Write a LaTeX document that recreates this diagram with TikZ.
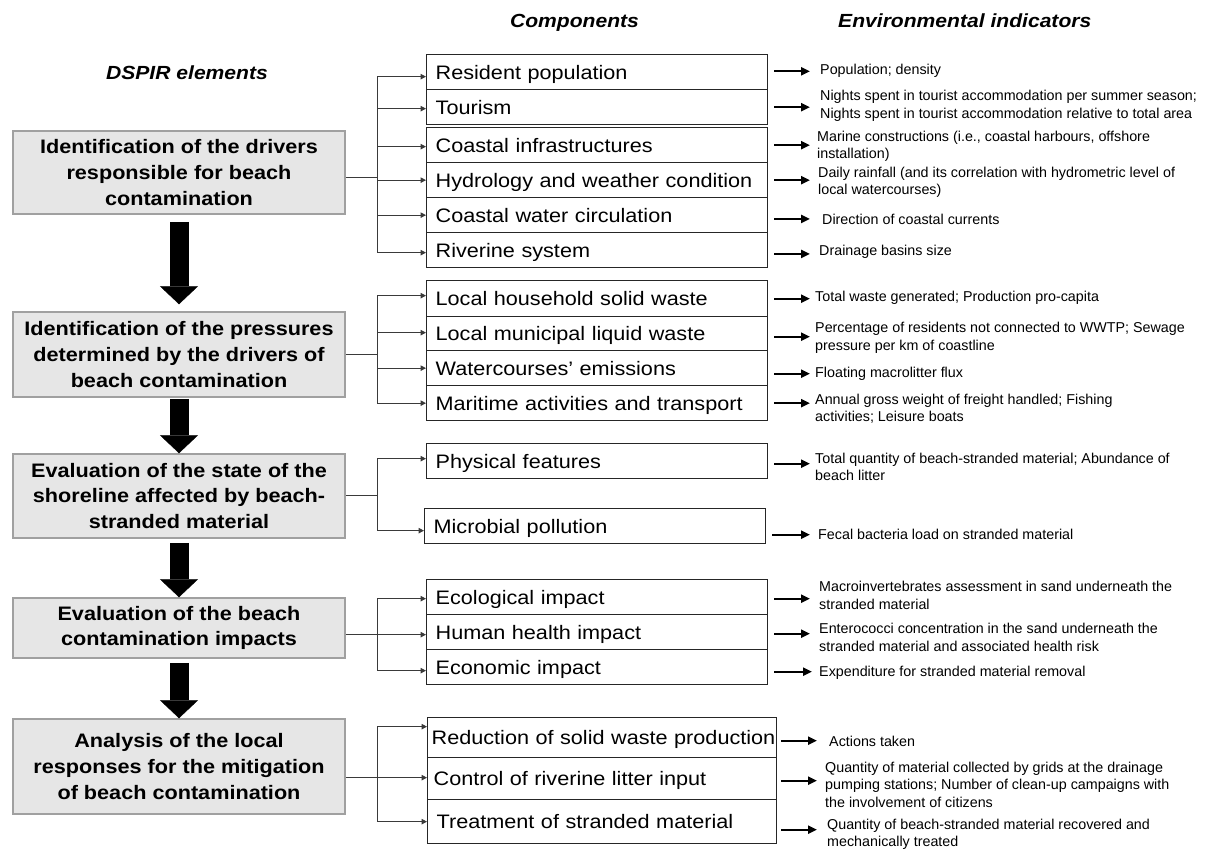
\documentclass[tikz,border=0pt]{standalone}
\usepackage{fontspec}
\setmainfont{Liberation Sans}[FakeStretch=1.11]
\newfontfamily\indfont{Liberation Sans}
\usetikzlibrary{arrows.meta}
\definecolor{boxfill}{HTML}{E6E6E6}
\definecolor{boxline}{HTML}{A0A0A0}
\definecolor{linkcol}{HTML}{3A3A3A}
\tikzset{
 head/.style={inner sep=0pt, font=\bfseries\itshape\fontsize{19}{23}\selectfont},
 dbox/.style={draw=boxline, line width=1.5pt, fill=boxfill, minimum width=332pt, inner sep=0pt, align=center, font=\bfseries\fontsize{19.5}{25.7}\selectfont},
 cbox/.style={draw=black!85, line width=1.3pt, fill=white, anchor=north west, inner sep=0pt, text width=341pt, align=left, text height=14pt, text depth=0pt, font=\fontsize{19.5}{23}\selectfont},
 cboxw/.style={cbox, text width=349pt},
 ind/.style={inner sep=0pt, anchor=west, align=left, font=\indfont\fontsize{14.3}{17.5}\selectfont},
 link/.style={draw=linkcol, line width=1pt},
 linkarrow/.style={link, -{Triangle[length=5.5pt,width=5.5pt]}},
 indarrow/.style={draw=black, line width=2.2pt, -{Triangle[length=9pt,width=8pt]}},
 bigarrow/.style={draw=black, line width=19pt, -{Triangle[length=18pt,width=38pt,line width'=0.4pt]}},
}
\begin{document}
\begin{tikzpicture}[x=1pt,y=-1pt]
\useasboundingbox (0,0) rectangle (1206,851);
% headers
\node[head, anchor=base] (hc) at (574.5,28) {Components};
\node[head, anchor=base west] (he) at (838,28) {Environmental indicators};
\node[head, anchor=base] (hd) at (187,79) {DSPIR elements};
% DSPIR elements
\node[dbox, minimum height=83pt] (d1) at (179,172.5) {Identification of the drivers\\responsible for beach\\contamination};
\node[dbox, minimum height=85pt] (d2) at (179,354.5) {Identification of the pressures\\determined by the drivers of\\beach contamination};
\node[dbox, minimum height=84pt] (d3) at (179,496) {Evaluation of the state of the\\shoreline affected by beach-\\stranded material};
\node[dbox, minimum height=60pt] (d4) at (179,628) {Evaluation of the beach\\contamination impacts};
\node[dbox, minimum height=95pt] (d5) at (179,766.5) {Analysis of the local\\responses for the mitigation\\of beach contamination};
% components
\node[cbox, minimum height=35pt] (c1) at (426,54) {\noindent\hspace*{9pt}Resident population};
\node[cbox, minimum height=35pt] (c2) at (426,89) {\noindent\hspace*{9pt}Tourism};
\node[cbox, minimum height=35pt] (c3) at (426,127) {\noindent\hspace*{9pt}Coastal infrastructures};
\node[cbox, minimum height=35pt] (c4) at (426,162) {\noindent\hspace*{9pt}Hydrology and weather condition};
\node[cbox, minimum height=35pt] (c5) at (426,197) {\noindent\hspace*{9pt}Coastal water circulation};
\node[cbox, minimum height=35pt] (c6) at (426,232) {\noindent\hspace*{9pt}Riverine system};
\node[cbox, minimum height=36pt] (c7) at (426,280) {\noindent\hspace*{9pt}Local household solid waste};
\node[cbox, minimum height=34pt] (c8) at (426,316) {\noindent\hspace*{9pt}Local municipal liquid waste};
\node[cbox, minimum height=35pt] (c9) at (426,350) {\noindent\hspace*{9pt}Watercourses’ emissions};
\node[cbox, minimum height=35pt] (c10) at (426,385) {\noindent\hspace*{9pt}Maritime activities and transport};
\node[cbox, minimum height=35pt] (c11) at (426,443) {\noindent\hspace*{9pt}Physical features};
\node[cbox, minimum height=35pt] (c12) at (424,508) {\noindent\hspace*{9pt}Microbial pollution};
\node[cbox, minimum height=35pt] (c13) at (426,579) {\noindent\hspace*{9pt}Ecological impact};
\node[cbox, minimum height=35pt] (c14) at (426,614) {\noindent\hspace*{9pt}Human health impact};
\node[cbox, minimum height=35pt] (c15) at (426,649) {\noindent\hspace*{9pt}Economic impact};
\node[cboxw, minimum height=40pt] (c16) at (427,717) {\noindent\hspace*{4pt}Reduction of solid waste production};
\node[cboxw, minimum height=42pt] (c17) at (427,757) {\noindent\hspace*{6pt}Control of riverine litter input};
\node[cboxw, minimum height=44pt] (c18) at (427,799) {\noindent\hspace*{9pt}Treatment of stranded material};
% indicators
\node[ind] (i1) at (820,71) {Population; density};
\node[ind] (i2) at (820,106) {Nights spent in tourist accommodation per summer season;\\Nights spent in tourist accommodation relative to total area};
\node[ind] (i3) at (817,146.5) {Marine constructions (i.e., coastal harbours, offshore\\installation)};
\node[ind] (i4) at (818,182.5) {Daily rainfall (and its correlation with hydrometric level of\\local watercourses)};
\node[ind] (i5) at (822,219) {Direction of coastal currents};
\node[ind] (i6) at (819,252) {Drainage basins size};
\node[ind] (i7) at (815,298) {Total waste generated; Production pro-capita};
\node[ind] (i8) at (815,338) {Percentage of residents not connected to WWTP; Sewage\\pressure per km of coastline};
\node[ind] (i9) at (815,374) {Floating macrolitter flux};
\node[ind] (i10) at (815,408.5) {Annual gross weight of freight handled; Fishing\\activities; Leisure boats};
\node[ind] (i11) at (815,467) {Total quantity of beach-stranded material; Abundance of\\beach litter};
\node[ind] (i12) at (818,534) {Fecal bacteria load on stranded material};
\node[ind] (i13) at (819,595.5) {Macroinvertebrates assessment in sand underneath the\\stranded material};
\node[ind] (i14) at (819,637.5) {Enterococci concentration in the sand underneath the\\stranded material and associated health risk};
\node[ind] (i15) at (819,673) {Expenditure for stranded material removal};
\node[ind] (i16) at (829,741) {Actions taken};
\node[ind] (i17) at (825,784.5) {Quantity of material collected by grids at the drainage\\pumping stations; Number of clean-up campaigns with\\the involvement of citizens};
\node[ind] (i18) at (827,834.5) {Quantity of beach-stranded material recovered and\\mechanically treated};
% big arrows
\draw[bigarrow] ([yshift=-7pt]d1.south) -- ([yshift=7pt]d2.north);
\draw[bigarrow] ([yshift=-1pt]d2.south) -- (d3.north);
\draw[bigarrow] ([yshift=-4pt]d3.south) -- (d4.north);
\draw[bigarrow] ([yshift=-4pt]d4.south) -- (d5.north);
% brackets
\coordinate (gx) at (377,0);
\foreach \n/\s in {1/-4.5,2/-1.5,3/-1.5,4/0,5/0,6/-2.5,7/3,8/1,9/0,10/0,11/2.5,12/-4.5,13/-1.5,14/-2.5,15/-3.5,16/11,17/1,18/0}
  {\coordinate (t\n) at ([yshift=\s pt]c\n.west);}
\foreach \n in {1,2,3,4,5,6,7,8,9,10,11,12,13,15,16,18}
  {\draw[linkarrow] (gx |- t\n) -- (t\n);}
\draw[link] (gx |- t1) -- (gx |- t6);
\draw[link] (gx |- t7) -- (gx |- t10);
\draw[link] (gx |- t11) -- (gx |- t12);
\draw[link] (gx |- t13) -- (gx |- t15);
\draw[link] (gx |- t16) -- (gx |- t18);
\coordinate (q1) at ([yshift=-4.5pt]d1.east);
\coordinate (q2) at (d2.east);
\coordinate (q3) at ([yshift=1pt]d3.east);
\draw[link] (q1) -- (q1 -| gx);
\draw[link] (q2) -- (q2 -| gx);
\draw[link] (q3) -- (q3 -| gx);
\draw[linkarrow] (d4.east |- t14) -- (t14);
\draw[linkarrow] (d5.east |- t17) -- (t17);
% indicator arrows
\foreach \n/\s/\x/\g in {1/0.8/6/10, 2/0/6/10, 3/0/6/7, 4/0/6/8, 5/-3.8/6/12, 6/-3.8/6/9, 7/0/6/5, 8/-3/6/5, 9/-5.5/6/5, 10/0/6/5, 11/-2.5/6/5, 12/-8.5/6/8, 13/-1.5/6/9, 14/-1.5/6/9, 15/-4.5/6/7, 16/-3/4/12, 17/-2/4/8, 18/-8/4/10}
  {\coordinate (s\n) at ([xshift=\x pt,yshift=\s pt]c\n.east);
   \draw[indarrow, shorten >=\g pt] (s\n) -- (s\n -| i\n.west);}
\end{tikzpicture}
\end{document}
